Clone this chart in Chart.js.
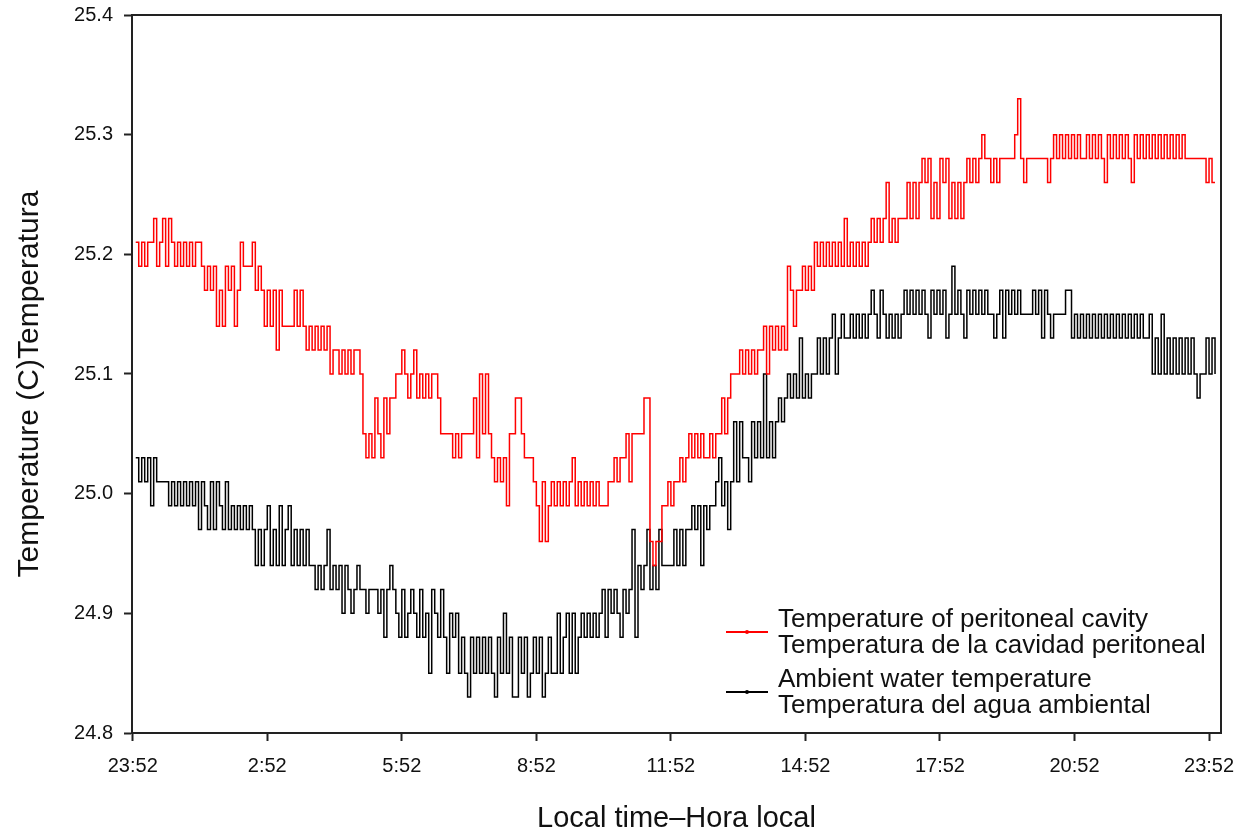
<!DOCTYPE html>
<html>
<head>
<meta charset="utf-8">
<title>Temperature of peritoneal cavity</title>
<script src="https://cdn.jsdelivr.net/npm/chart.js"></script>
<style>
  html, body { margin: 0; padding: 0; background: #fff; }
  canvas { display: block; }
</style>
</head>
<body>
<canvas id="temp_chart" width="1235" height="836"></canvas>
<script>
// readings were logged every few minutes starting after 23:52
const sampleStep = 4

const tickMinutes = [0, 180, 360, 540, 720, 900, 1080, 1260, 1440]
const tickLabels = ['23:52', '2:52', '5:52', '8:52', '11:52', '14:52', '17:52', '20:52', '23:52']
const tempTicks = [24.8, 24.9, 25.0, 25.1, 25.2, 25.3, 25.4]

const xTitle = 'Local time\u2013Hora local'
const yTitle = 'Temperature (C)Temperatura'
const seriesNames = ['Temperature of peritoneal cavity', 'Ambient water temperature']
const legendLines = [
  ['Temperature of peritoneal cavity', 'Temperatura de la cavidad peritoneal'],
  ['Ambient water temperature', 'Temperatura del agua ambiental']
]

const peritonealTemp = [
  25.21, 25.19, 25.21, 25.19, 25.21, 25.21, 25.23, 25.19, 25.21, 25.23,
  25.19, 25.23, 25.21, 25.19, 25.21, 25.19, 25.21, 25.19, 25.21, 25.19,
  25.21, 25.21, 25.19, 25.17, 25.19, 25.17, 25.19, 25.14, 25.17, 25.14,
  25.19, 25.17, 25.19, 25.14, 25.17, 25.21, 25.19, 25.19, 25.19, 25.21,
  25.17, 25.19, 25.17, 25.14, 25.17, 25.14, 25.17, 25.12, 25.17, 25.14,
  25.14, 25.14, 25.14, 25.17, 25.14, 25.17, 25.14, 25.12, 25.14, 25.12,
  25.14, 25.12, 25.14, 25.12, 25.14, 25.10, 25.12, 25.12, 25.10, 25.12,
  25.10, 25.12, 25.10, 25.12, 25.12, 25.10, 25.05, 25.03, 25.05, 25.03,
  25.08, 25.05, 25.03, 25.08, 25.05, 25.08, 25.08, 25.10, 25.10, 25.12,
  25.10, 25.08, 25.10, 25.12, 25.08, 25.10, 25.08, 25.10, 25.08, 25.10,
  25.10, 25.08, 25.05, 25.05, 25.05, 25.05, 25.03, 25.05, 25.03, 25.05,
  25.05, 25.05, 25.05, 25.08, 25.03, 25.10, 25.05, 25.10, 25.05, 25.03,
  25.01, 25.03, 25.01, 25.03, 24.99, 25.05, 25.05, 25.08, 25.08, 25.05,
  25.03, 25.03, 25.03, 25.01, 24.99, 24.96, 25.01, 24.96, 24.99, 25.01,
  24.99, 25.01, 24.99, 25.01, 24.99, 25.01, 25.03, 24.99, 25.01, 24.99,
  25.01, 24.99, 25.01, 24.99, 25.01, 24.99, 24.99, 24.99, 25.01, 25.01,
  25.03, 25.01, 25.03, 25.03, 25.05, 25.01, 25.05, 25.05, 25.05, 25.05,
  25.08, 25.08, 24.96, 24.94, 24.96, 24.96, 24.99, 24.99, 25.01, 24.99,
  25.01, 25.01, 25.03, 25.01, 25.03, 25.05, 25.03, 25.05, 25.03, 25.05,
  25.03, 25.03, 25.05, 25.03, 25.05, 25.05, 25.08, 25.05, 25.08, 25.10,
  25.10, 25.10, 25.12, 25.10, 25.12, 25.10, 25.12, 25.10, 25.12, 25.12,
  25.14, 25.10, 25.14, 25.12, 25.14, 25.12, 25.14, 25.12, 25.19, 25.17,
  25.14, 25.17, 25.17, 25.19, 25.17, 25.19, 25.17, 25.21, 25.19, 25.21,
  25.19, 25.21, 25.19, 25.21, 25.19, 25.21, 25.19, 25.23, 25.19, 25.21,
  25.19, 25.21, 25.19, 25.21, 25.19, 25.21, 25.23, 25.21, 25.23, 25.21,
  25.23, 25.26, 25.21, 25.23, 25.21, 25.23, 25.23, 25.23, 25.26, 25.23,
  25.26, 25.23, 25.26, 25.28, 25.26, 25.28, 25.23, 25.26, 25.23, 25.28,
  25.26, 25.28, 25.23, 25.26, 25.23, 25.26, 25.23, 25.26, 25.28, 25.26,
  25.28, 25.26, 25.28, 25.30, 25.28, 25.28, 25.26, 25.28, 25.26, 25.28,
  25.28, 25.28, 25.28, 25.28, 25.30, 25.33, 25.28, 25.26, 25.28, 25.28,
  25.28, 25.28, 25.28, 25.28, 25.28, 25.26, 25.28, 25.30, 25.28, 25.30,
  25.28, 25.30, 25.28, 25.30, 25.28, 25.30, 25.28, 25.28, 25.30, 25.28,
  25.30, 25.28, 25.30, 25.28, 25.26, 25.30, 25.28, 25.30, 25.28, 25.30,
  25.28, 25.30, 25.28, 25.26, 25.30, 25.28, 25.30, 25.28, 25.30, 25.28,
  25.30, 25.28, 25.30, 25.28, 25.30, 25.28, 25.30, 25.28, 25.30, 25.28,
  25.30, 25.28, 25.28, 25.28, 25.28, 25.28, 25.28, 25.28, 25.26, 25.28,
  25.26, 25.26
]

const ambientTemp = [
  25.03, 25.01, 25.03, 25.01, 25.03, 24.99, 25.03, 25.01, 25.01, 25.01,
  25.01, 24.99, 25.01, 24.99, 25.01, 24.99, 25.01, 24.99, 25.01, 24.99,
  25.01, 24.97, 25.01, 24.99, 24.97, 25.01, 24.97, 25.01, 24.99, 24.97,
  25.01, 24.97, 24.99, 24.97, 24.99, 24.97, 24.99, 24.97, 24.99, 24.97,
  24.94, 24.97, 24.94, 24.97, 24.99, 24.94, 24.97, 24.94, 24.99, 24.94,
  24.97, 24.99, 24.94, 24.97, 24.94, 24.97, 24.94, 24.97, 24.94, 24.94,
  24.92, 24.94, 24.92, 24.94, 24.97, 24.92, 24.94, 24.92, 24.94, 24.90,
  24.94, 24.92, 24.90, 24.92, 24.94, 24.92, 24.92, 24.90, 24.92, 24.92,
  24.92, 24.90, 24.92, 24.88, 24.92, 24.94, 24.92, 24.90, 24.88, 24.92,
  24.88, 24.90, 24.92, 24.90, 24.88, 24.92, 24.88, 24.90, 24.85, 24.92,
  24.90, 24.88, 24.92, 24.88, 24.85, 24.90, 24.88, 24.90, 24.85, 24.88,
  24.85, 24.83, 24.88, 24.85, 24.88, 24.85, 24.88, 24.85, 24.88, 24.85,
  24.83, 24.88, 24.85, 24.90, 24.85, 24.88, 24.83, 24.83, 24.88, 24.85,
  24.88, 24.83, 24.85, 24.88, 24.85, 24.88, 24.83, 24.85, 24.88, 24.85,
  24.85, 24.90, 24.85, 24.88, 24.90, 24.85, 24.90, 24.85, 24.88, 24.90,
  24.88, 24.90, 24.88, 24.90, 24.88, 24.90, 24.92, 24.88, 24.92, 24.90,
  24.92, 24.90, 24.88, 24.92, 24.90, 24.92, 24.97, 24.88, 24.94, 24.92,
  24.94, 24.97, 24.92, 24.94, 24.92, 24.97, 24.94, 24.94, 24.94, 24.94,
  24.97, 24.94, 24.97, 24.94, 24.97, 24.97, 24.99, 24.97, 24.99, 24.94,
  24.99, 24.97, 24.99, 24.99, 25.01, 25.03, 24.99, 25.01, 24.97, 25.01,
  25.06, 25.01, 25.06, 25.03, 25.03, 25.01, 25.06, 25.03, 25.06, 25.03,
  25.10, 25.03, 25.06, 25.03, 25.06, 25.08, 25.06, 25.08, 25.10, 25.08,
  25.10, 25.08, 25.13, 25.08, 25.10, 25.08, 25.10, 25.10, 25.13, 25.10,
  25.13, 25.10, 25.13, 25.15, 25.10, 25.13, 25.15, 25.13, 25.13, 25.15,
  25.13, 25.15, 25.13, 25.15, 25.13, 25.15, 25.17, 25.15, 25.13, 25.17,
  25.15, 25.13, 25.15, 25.13, 25.15, 25.13, 25.15, 25.17, 25.15, 25.17,
  25.15, 25.17, 25.15, 25.17, 25.15, 25.13, 25.17, 25.15, 25.17, 25.15,
  25.17, 25.13, 25.15, 25.19, 25.15, 25.17, 25.15, 25.13, 25.17, 25.15,
  25.17, 25.15, 25.17, 25.15, 25.17, 25.15, 25.15, 25.13, 25.15, 25.17,
  25.13, 25.17, 25.15, 25.17, 25.15, 25.17, 25.15, 25.15, 25.15, 25.15,
  25.17, 25.15, 25.17, 25.13, 25.17, 25.15, 25.13, 25.15, 25.15, 25.15,
  25.15, 25.17, 25.17, 25.13, 25.15, 25.13, 25.15, 25.13, 25.15, 25.13,
  25.15, 25.13, 25.15, 25.13, 25.15, 25.13, 25.15, 25.13, 25.15, 25.13,
  25.15, 25.13, 25.15, 25.13, 25.15, 25.13, 25.15, 25.13, 25.13, 25.15,
  25.10, 25.13, 25.10, 25.15, 25.10, 25.13, 25.10, 25.13, 25.10, 25.13,
  25.10, 25.13, 25.10, 25.13, 25.10, 25.08, 25.10, 25.10, 25.13, 25.10,
  25.13, 25.10
]

const seriesColors = ['#ff0000', '#000000']

Chart.defaults.font.family = "'Liberation Sans', Arial, sans-serif"
Chart.defaults.color = '#111'

function toPoints(values) {
  return values.map((y, i) => ({ x: (i + 1) * sampleStep, y }))
}

// top and right edges of the plot box
const frameBox = {
  id: 'frameBox',
  afterDraw(chart) {
    const { ctx, chartArea } = chart
    ctx.save()
    ctx.strokeStyle = '#222'
    ctx.lineWidth = 2
    ctx.beginPath()
    ctx.moveTo(chartArea.left, chartArea.top)
    ctx.lineTo(chartArea.right, chartArea.top)
    ctx.lineTo(chartArea.right, chartArea.bottom)
    ctx.stroke()
    ctx.restore()
  }
}

// rotated y title, sits a little below the plot centre like the original
const sideTitle = {
  id: 'sideTitle',
  afterDraw(chart) {
    const { ctx } = chart
    ctx.save()
    ctx.translate(38, 384)
    ctx.rotate(-Math.PI / 2)
    ctx.font = "30px 'Liberation Sans', Arial, sans-serif"
    ctx.fillStyle = '#111'
    ctx.textAlign = 'center'
    ctx.textBaseline = 'alphabetic'
    ctx.fillText(yTitle, 0, 0)
    ctx.restore()
  }
}

// two-line legend entries inside the plot, lower right
const innerLegend = {
  id: 'innerLegend',
  afterDatasetsDraw(chart) {
    const { ctx } = chart
    const sampleY = [632, 692]
    const textBase = [[627, 653], [687, 713]]
    ctx.save()
    chart.data.datasets.forEach((ds, i) => {
      ctx.strokeStyle = ds.borderColor
      ctx.fillStyle = ds.borderColor
      ctx.lineWidth = 2
      ctx.beginPath()
      ctx.moveTo(726, sampleY[i])
      ctx.lineTo(768, sampleY[i])
      ctx.stroke()
      ctx.beginPath()
      ctx.arc(747, sampleY[i], 2, 0, Math.PI * 2)
      ctx.fill()
      ctx.fillStyle = '#111'
      ctx.font = "26px 'Liberation Sans', Arial, sans-serif"
      ctx.textBaseline = 'alphabetic'
      ctx.textAlign = 'left'
      legendLines[i].forEach((line, j) => ctx.fillText(line, 778, textBase[i][j]))
    })
    ctx.restore()
  }
}

const chart = new Chart(document.getElementById('temp_chart'), {
  type: 'line',
  data: {
    datasets: [
      {
        label: seriesNames[0],
        data: toPoints(peritonealTemp),
        borderColor: seriesColors[0],
        borderWidth: 1.5,
        pointRadius: 0,
        stepped: true,
        fill: false
      },
      {
        label: seriesNames[1],
        data: toPoints(ambientTemp),
        borderColor: seriesColors[1],
        borderWidth: 1.5,
        pointRadius: 0,
        stepped: true,
        fill: false
      }
    ]
  },
  options: {
    responsive: false,
    animation: false,
    devicePixelRatio: 1,
    layout: { padding: { left: 0, right: 14, top: 15, bottom: 0 } },
    plugins: {
      legend: { display: false },
      tooltip: { enabled: false }
    },
    scales: {
      x: {
        type: 'linear',
        min: -1,
        max: 1456,
        afterFit: scale => {
          scale.height = 103
          scale.paddingLeft = 0
          scale.paddingRight = 0
        },
        afterBuildTicks: scale => { scale.ticks = tickMinutes.map(v => ({ value: v })) },
        border: { color: '#222', width: 2 },
        grid: { drawOnChartArea: false, tickLength: 8, tickColor: '#222', tickWidth: 2 },
        ticks: {
          font: { size: 20 },
          color: '#111',
          padding: 13,
          maxRotation: 0,
          callback: value => tickLabels[tickMinutes.indexOf(value)]
        },
        title: {
          display: true,
          text: xTitle,
          font: { size: 29 },
          color: '#111',
          padding: { top: 0, bottom: 0 }
        }
      },
      y: {
        min: 24.8,
        max: 25.4,
        afterFit: scale => {
          scale.width = 132
          scale.paddingTop = 0
          scale.paddingBottom = 0
        },
        afterBuildTicks: scale => { scale.ticks = tempTicks.map(v => ({ value: v })) },
        border: { color: '#222', width: 2 },
        grid: { drawOnChartArea: false, tickLength: 8, tickColor: '#222', tickWidth: 2 },
        ticks: {
          font: { size: 20 },
          color: '#111',
          padding: 11,
          callback: value => Number(value).toFixed(1)
        }
      }
    }
  },
  plugins: [frameBox, sideTitle, innerLegend]
})
</script>
</body>
</html>
